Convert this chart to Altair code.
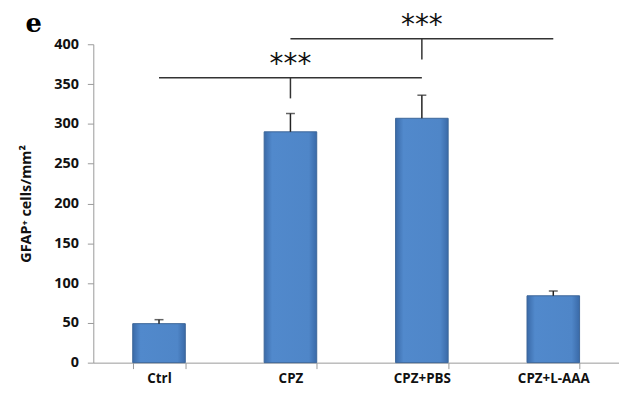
import altair as alt
import pandas as pd

groups = ["Ctrl", "CPZ", "CPZ+PBS", "CPZ+L-AAA"]
means = [49, 290, 307, 84]
errs = [5, 23, 29, 6]

# significance brackets
br_start = ["Ctrl", "CPZ"]
br_end = ["CPZ+PBS", "CPZ+L-AAA"]
br_level = [358, 407]
br_drop = ["CPZ", "CPZ+PBS"]
br_drop_bottom = [332, 381]
br_star_level = [377, 426]
br_star_at = ["CPZ", "CPZ+PBS"]
star_text = "***"

df = pd.DataFrame({"g": groups, "m": means, "e": errs})
df["top"] = df["m"] + df["e"]
br = pd.DataFrame({"s": br_start, "t": br_end, "lv": br_level, "d": br_drop,
                   "db": br_drop_bottom, "sl": br_star_level, "sa": br_star_at,
                   "txt": [star_text] * 2})

W, H = 530, 321
xscale = alt.Scale(domain=groups, paddingInner=0.6, paddingOuter=0.3)
yscale = alt.Scale(domain=[0, 400])

xax = alt.Axis(title=None, labelFont="Open Sans", labelFontWeight="bold", labelFontSize=13.5,
               labelColor="#111", labelPadding=3, labelAngle=0, tickBand="extent",
               domainColor="#999", tickColor="#999", tickSize=6)
yax = alt.Axis(title="GFAP\u207a cells/mm\u00b2", titleFont="Open Sans", titleFontWeight="bold",
               titleFontSize=14.5, titleColor="#111", titlePadding=20,
               labelFont="Open Sans", labelFontWeight="bold", labelFontSize=14.5, labelColor="#111",
               values=[0, 50, 100, 150, 200, 250, 300, 350, 400], grid=False,
               domainColor="#999", tickColor="#999", tickSize=6, labelPadding=9)

grad = alt.LinearGradient(gradient="linear", x1=0, x2=1, y1=0, y2=0,
                          stops=[alt.GradientStop(color="#3a6aa8", offset=0),
                                 alt.GradientStop(color="#5189cc", offset=0.15),
                                 alt.GradientStop(color="#4f86c8", offset=0.85),
                                 alt.GradientStop(color="#3a6aa8", offset=1)])

base = alt.Chart(df)
bars = base.mark_bar(fill=grad, stroke="#3d6699", strokeWidth=1).encode(
    x=alt.X("g:N", scale=xscale, axis=xax, sort=groups),
    y=alt.Y("m:Q", scale=yscale, axis=yax),
)
err = base.mark_rule(color="#222", strokeWidth=1.5).encode(
    x=alt.X("g:N", sort=groups), y="m:Q", y2="top:Q")
cap = base.mark_tick(color="#222", thickness=1.5, size=9, orient="horizontal").encode(
    x=alt.X("g:N", sort=groups), y="top:Q")

bb = alt.Chart(br)
hline = bb.mark_rule(color="#333", strokeWidth=1.5).encode(
    x=alt.X("s:N", sort=groups), x2="t:N", y="lv:Q")
vline = bb.mark_rule(color="#333", strokeWidth=1.5).encode(
    x=alt.X("d:N", sort=groups), y="lv:Q", y2="db:Q")
stars = bb.mark_text(font="DejaVu Sans", fontSize=28, color="#111", baseline="middle",
                     dy=3).encode(
    x=alt.X("sa:N", sort=groups), y="sl:Q", text="txt:N")

letter = alt.Chart(pd.DataFrame({"t": ["e"]})).mark_text(
    font="DejaVu Serif", fontWeight="bold", fontSize=26, color="#000",
    align="center", baseline="alphabetic").encode(
    x=alt.value(-60), y=alt.value(-12), text="t:N")

chart = alt.layer(bars, err, cap, hline, vline, stars, letter).properties(
    width=W, height=H,
    autosize=alt.AutoSizeParams(type="none"),
    padding={"left": 86, "top": 35, "right": 0, "bottom": 24},
).configure_view(stroke=None).configure_axis(labelOverlap=False)

chart.save("out.html", embed_options={"renderer": "svg", "actions": False})
